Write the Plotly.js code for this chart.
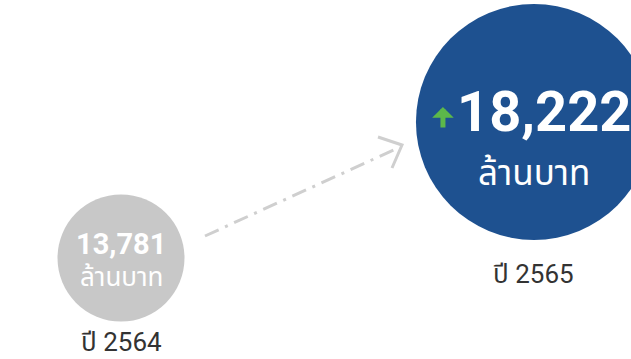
<!DOCTYPE html>
<html>
<head>
<meta charset="utf-8">
<script src="https://cdn.plot.ly/plotly-3.0.1.min.js"></script>
<style>html,body{margin:0;padding:0;background:#fff;}#chart{width:631px;height:359px;}</style>
</head>
<body>
<div id="chart"></div>
<script>
const years = ['2564', '2565'];
const values = [13781, 18222];
const yearLabels = ['ปี 2564', 'ปี 2565'];
const valueLabels = ['13,781', '18,222'];
const unitLabel = 'ล้านบาท';

const FONT = "Roboto, Noto Sans Thai, Noto Sans, sans-serif";
const circleColors = ['#c8c8c8', '#1e5190'];
const circleSizes = [127, 236];

const trace = {
  type: 'scatter',
  mode: 'markers',
  x: years,
  y: values,
  marker: { size: circleSizes, color: circleColors, line: { width: 0 }, opacity: 1 },
  hoverinfo: 'skip',
  cliponaxis: false
};

const annotations = [];
const numCfg = [
  { size: 29, yshift: 14, xshift: 0 },
  { size: 56, yshift: 10, xshift: 10 }
];
const unitCfg = [
  { size: 26, yshift: -19 },
  { size: 35, yshift: -51 }
];
const yearCfg = [
  { yshift: -84 },
  { yshift: -152 }
];
for (let i = 0; i < years.length; i++) {
  annotations.push({
    x: i, y: values[i], xref: 'x', yref: 'y', showarrow: false,
    text: '<b>' + valueLabels[i] + '</b>',
    font: { family: FONT, size: numCfg[i].size, color: '#ffffff' },
    xshift: numCfg[i].xshift, yshift: numCfg[i].yshift
  });
  annotations.push({
    x: i, y: values[i], xref: 'x', yref: 'y', showarrow: false,
    text: unitLabel,
    font: { family: FONT, size: unitCfg[i].size, color: '#ffffff' },
    yshift: unitCfg[i].yshift
  });
  annotations.push({
    x: i, y: values[i], xref: 'x', yref: 'y', showarrow: false,
    text: yearLabels[i],
    font: { family: FONT, size: 26, color: '#333333' },
    yshift: yearCfg[i].yshift
  });
}
annotations.push({
  x: 1, y: values[1], xref: 'x', yref: 'y',
  showarrow: true, text: '', ax: 0, ay: 22,
  arrowhead: 1, arrowsize: 0.72, arrowwidth: 5, arrowcolor: '#5cb84a',
  xshift: -91, yshift: 15
});

function px(x) { return x / 631; }
function py(y) { return 1 - y / 359; }

const shapes = [
  {
    type: 'line', xref: 'paper', yref: 'paper',
    x0: px(205), y0: py(236), x1: px(398), y1: py(148),
    line: { color: '#cfcfcf', width: 3, dash: '15px,7px,3px,7px' }
  },
  {
    type: 'path', xref: 'paper', yref: 'paper',
    path: 'M' + px(378) + ',' + py(137) + ' L' + px(402) + ',' + py(145) + ' L' + px(392) + ',' + py(168),
    line: { color: '#cfcfcf', width: 3 }, fillcolor: 'rgba(0,0,0,0)'
  }
];

const layout = {
  width: 631, height: 359,
  margin: { l: 0, r: 0, t: 0, b: 0 },
  paper_bgcolor: '#ffffff', plot_bgcolor: '#ffffff',
  showlegend: false,
  xaxis: { type: 'category', range: [-0.293, 1.235], visible: false, fixedrange: true },
  yaxis: { range: [10483, 22206], visible: false, fixedrange: true },
  annotations: annotations,
  shapes: shapes
};

Plotly.newPlot('chart', [trace], layout, { staticPlot: true, displayModeBar: false });
</script>
</body>
</html>
